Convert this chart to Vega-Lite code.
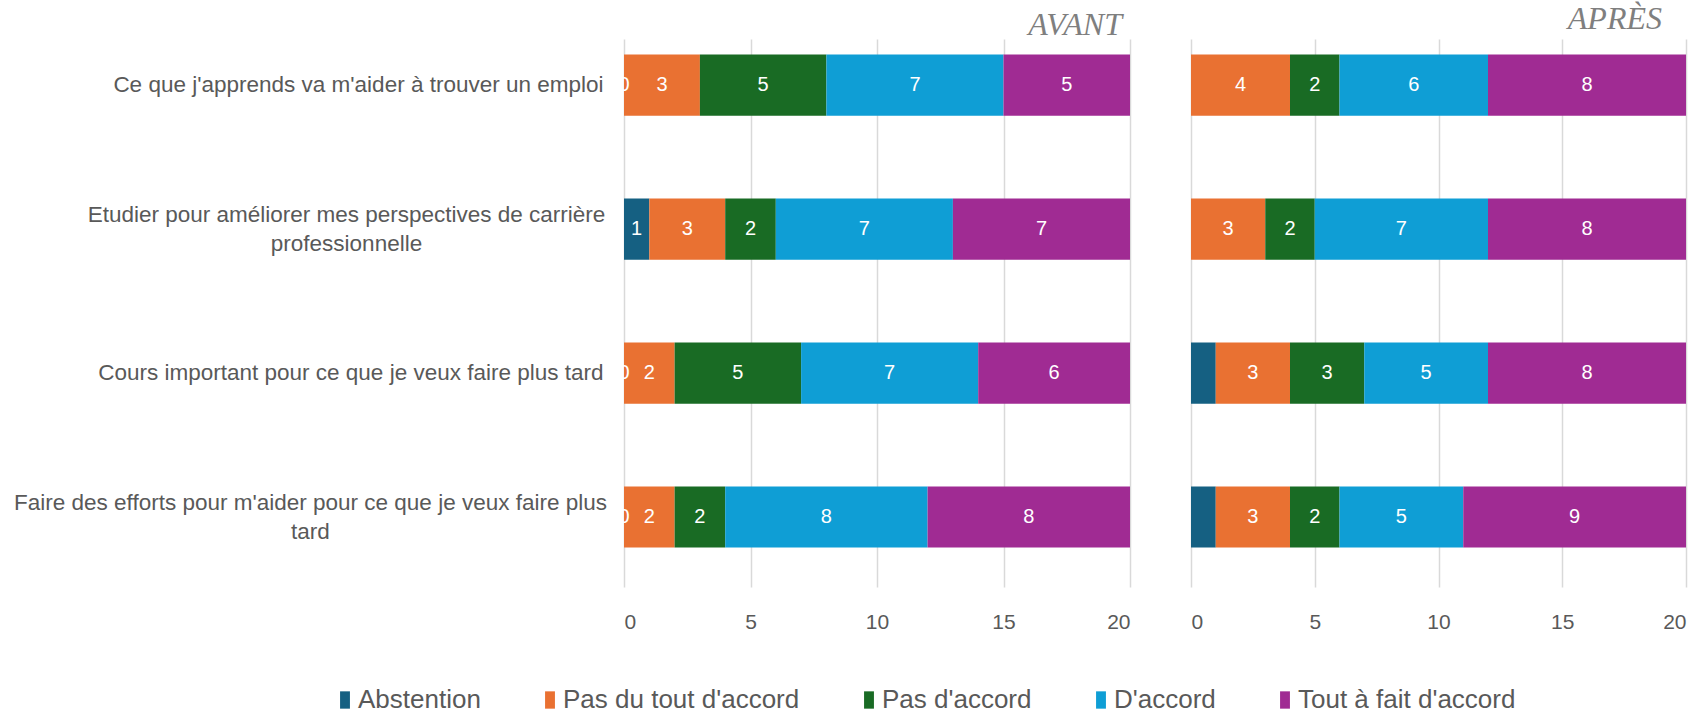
{
  "$schema": "https://vega.github.io/schema/vega-lite/v6.json",
  "background": "white",
  "padding": {"left": 13, "top": 2, "right": 5, "bottom": 3},
  "bounds": "flush",
  "spacing": 61,
  "config": {
    "view": {"stroke": null},
    "font": "Liberation Sans",
    "axis": {"labelFont": "Liberation Sans", "labelColor": "#595959", "domain": false, "ticks": false, "title": null, "gridColor": "#d9d9d9", "gridWidth": 1.5},
    "legend": {"labelFont": "Liberation Sans", "labelColor": "#595959"}
  },
  "data": {"values": [
    {"panel": "AVANT", "question": "Ce que j'apprends va m'aider à trouver un emploi", "cat": "Abstention", "rang": 1, "value": 0},
    {"panel": "AVANT", "question": "Ce que j'apprends va m'aider à trouver un emploi", "cat": "Pas du tout d'accord", "rang": 2, "value": 3},
    {"panel": "AVANT", "question": "Ce que j'apprends va m'aider à trouver un emploi", "cat": "Pas d'accord", "rang": 3, "value": 5},
    {"panel": "AVANT", "question": "Ce que j'apprends va m'aider à trouver un emploi", "cat": "D'accord", "rang": 4, "value": 7},
    {"panel": "AVANT", "question": "Ce que j'apprends va m'aider à trouver un emploi", "cat": "Tout à fait d'accord", "rang": 5, "value": 5},
    {"panel": "AVANT", "question": "Etudier pour améliorer mes perspectives de carrière professionnelle", "cat": "Abstention", "rang": 1, "value": 1},
    {"panel": "AVANT", "question": "Etudier pour améliorer mes perspectives de carrière professionnelle", "cat": "Pas du tout d'accord", "rang": 2, "value": 3},
    {"panel": "AVANT", "question": "Etudier pour améliorer mes perspectives de carrière professionnelle", "cat": "Pas d'accord", "rang": 3, "value": 2},
    {"panel": "AVANT", "question": "Etudier pour améliorer mes perspectives de carrière professionnelle", "cat": "D'accord", "rang": 4, "value": 7},
    {"panel": "AVANT", "question": "Etudier pour améliorer mes perspectives de carrière professionnelle", "cat": "Tout à fait d'accord", "rang": 5, "value": 7},
    {"panel": "AVANT", "question": "Cours important pour ce que je veux faire plus tard", "cat": "Abstention", "rang": 1, "value": 0},
    {"panel": "AVANT", "question": "Cours important pour ce que je veux faire plus tard", "cat": "Pas du tout d'accord", "rang": 2, "value": 2},
    {"panel": "AVANT", "question": "Cours important pour ce que je veux faire plus tard", "cat": "Pas d'accord", "rang": 3, "value": 5},
    {"panel": "AVANT", "question": "Cours important pour ce que je veux faire plus tard", "cat": "D'accord", "rang": 4, "value": 7},
    {"panel": "AVANT", "question": "Cours important pour ce que je veux faire plus tard", "cat": "Tout à fait d'accord", "rang": 5, "value": 6},
    {"panel": "AVANT", "question": "Faire des efforts pour m'aider pour ce que je veux faire plus tard", "cat": "Abstention", "rang": 1, "value": 0},
    {"panel": "AVANT", "question": "Faire des efforts pour m'aider pour ce que je veux faire plus tard", "cat": "Pas du tout d'accord", "rang": 2, "value": 2},
    {"panel": "AVANT", "question": "Faire des efforts pour m'aider pour ce que je veux faire plus tard", "cat": "Pas d'accord", "rang": 3, "value": 2},
    {"panel": "AVANT", "question": "Faire des efforts pour m'aider pour ce que je veux faire plus tard", "cat": "D'accord", "rang": 4, "value": 8},
    {"panel": "AVANT", "question": "Faire des efforts pour m'aider pour ce que je veux faire plus tard", "cat": "Tout à fait d'accord", "rang": 5, "value": 8},
    {"panel": "APRÈS", "question": "Ce que j'apprends va m'aider à trouver un emploi", "cat": "Abstention", "rang": 1, "value": 0},
    {"panel": "APRÈS", "question": "Ce que j'apprends va m'aider à trouver un emploi", "cat": "Pas du tout d'accord", "rang": 2, "value": 4},
    {"panel": "APRÈS", "question": "Ce que j'apprends va m'aider à trouver un emploi", "cat": "Pas d'accord", "rang": 3, "value": 2},
    {"panel": "APRÈS", "question": "Ce que j'apprends va m'aider à trouver un emploi", "cat": "D'accord", "rang": 4, "value": 6},
    {"panel": "APRÈS", "question": "Ce que j'apprends va m'aider à trouver un emploi", "cat": "Tout à fait d'accord", "rang": 5, "value": 8},
    {"panel": "APRÈS", "question": "Etudier pour améliorer mes perspectives de carrière professionnelle", "cat": "Abstention", "rang": 1, "value": 0},
    {"panel": "APRÈS", "question": "Etudier pour améliorer mes perspectives de carrière professionnelle", "cat": "Pas du tout d'accord", "rang": 2, "value": 3},
    {"panel": "APRÈS", "question": "Etudier pour améliorer mes perspectives de carrière professionnelle", "cat": "Pas d'accord", "rang": 3, "value": 2},
    {"panel": "APRÈS", "question": "Etudier pour améliorer mes perspectives de carrière professionnelle", "cat": "D'accord", "rang": 4, "value": 7},
    {"panel": "APRÈS", "question": "Etudier pour améliorer mes perspectives de carrière professionnelle", "cat": "Tout à fait d'accord", "rang": 5, "value": 8},
    {"panel": "APRÈS", "question": "Cours important pour ce que je veux faire plus tard", "cat": "Abstention", "rang": 1, "value": 1},
    {"panel": "APRÈS", "question": "Cours important pour ce que je veux faire plus tard", "cat": "Pas du tout d'accord", "rang": 2, "value": 3},
    {"panel": "APRÈS", "question": "Cours important pour ce que je veux faire plus tard", "cat": "Pas d'accord", "rang": 3, "value": 3},
    {"panel": "APRÈS", "question": "Cours important pour ce que je veux faire plus tard", "cat": "D'accord", "rang": 4, "value": 5},
    {"panel": "APRÈS", "question": "Cours important pour ce que je veux faire plus tard", "cat": "Tout à fait d'accord", "rang": 5, "value": 8},
    {"panel": "APRÈS", "question": "Faire des efforts pour m'aider pour ce que je veux faire plus tard", "cat": "Abstention", "rang": 1, "value": 1},
    {"panel": "APRÈS", "question": "Faire des efforts pour m'aider pour ce que je veux faire plus tard", "cat": "Pas du tout d'accord", "rang": 2, "value": 3},
    {"panel": "APRÈS", "question": "Faire des efforts pour m'aider pour ce que je veux faire plus tard", "cat": "Pas d'accord", "rang": 3, "value": 2},
    {"panel": "APRÈS", "question": "Faire des efforts pour m'aider pour ce que je veux faire plus tard", "cat": "D'accord", "rang": 4, "value": 5},
    {"panel": "APRÈS", "question": "Faire des efforts pour m'aider pour ce que je veux faire plus tard", "cat": "Tout à fait d'accord", "rang": 5, "value": 9}
  ]},
  "hconcat": [
    {
      "width": 506,
      "height": 548,
      "title": {"text": "AVANT", "anchor": "end", "font": "Liberation Serif", "fontStyle": "italic", "fontWeight": "normal", "fontSize": 32, "color": "#7f7f7f", "baseline": "alphabetic", "offset": -28, "dx": -8},
      "transform": [{"filter": "datum.panel == 'AVANT'"}],
      "encoding": {
        "y": {"field": "question", "type": "nominal",
          "sort": ["Ce que j'apprends va m'aider à trouver un emploi", "Etudier pour améliorer mes perspectives de carrière professionnelle", "Cours important pour ce que je veux faire plus tard", "Faire des efforts pour m'aider pour ce que je veux faire plus tard"],
          "scale": {"paddingInner": 0.576, "paddingOuter": 0.191, "align": 0.284},
          "axis": {
            "labelFontSize": 22.5,
            "labelLineHeight": 29,
            "labelLimit": 700,
            "labelExpr": "indexof(datum.label, 'Etudier') == 0 ? ['Etudier pour améliorer mes perspectives de carrière', 'professionnelle'] : indexof(datum.label, 'Faire') == 0 ? ['Faire des efforts pour m\\'aider pour ce que je veux faire plus', 'tard'] : datum.label",
            "labelAlign": {"condition": {"test": "length(datum.value) > 60", "value": "center"}, "value": "right"},
            "labelOffset": {"condition": {"test": "length(datum.value) > 60", "value": -14.5}, "value": 0},
            "labelPadding": {"condition": [{"test": "indexof(datum.value, 'Etudier') == 0", "value": 278}, {"test": "indexof(datum.value, 'Faire') == 0", "value": 314}], "value": 21}
          }
        },
        "x": {"field": "value", "type": "quantitative", "stack": "zero",
          "scale": {"domain": [0, 20], "nice": false},
          "axis": {"values": [0, 5, 10, 15, 20], "labelFontSize": 21, "labelPadding": 24, "grid": true}
        },
        "order": {"field": "rang", "type": "quantitative"}
      },
      "layer": [
        {"mark": {"type": "bar"},
         "encoding": {
           "color": {"field": "cat", "type": "nominal",
             "sort": ["Abstention", "Pas du tout d'accord", "Pas d'accord", "D'accord", "Tout à fait d'accord"],
             "scale": {"domain": ["Abstention", "Pas du tout d'accord", "Pas d'accord", "D'accord", "Tout à fait d'accord"], "range": ["#156082", "#e97132", "#196b24", "#0f9ed5", "#a02b93"]},
             "legend": {"orient": "none", "direction": "horizontal", "title": null, "legendX": -292, "legendY": 648, "labelFontSize": 26, "labelLimit": 600, "symbolType": "M-0.57,-1H0.57V1H-0.57Z", "symbolSize": 300, "symbolStrokeWidth": 0, "columnPadding": 56, "labelOffset": 0}
           }
         }},
        {"mark": {"type": "text", "color": "white", "fontSize": 20, "font": "Liberation Sans"},
         "encoding": {
           "x": {"field": "value", "type": "quantitative", "stack": "zero", "bandPosition": 0.5},
           "detail": {"field": "cat", "type": "nominal"},
           "text": {"field": "value", "type": "quantitative"}
         }}
      ]
    },
    {
      "width": 495,
      "height": 548,
      "title": {"text": "APRÈS", "anchor": "end", "font": "Liberation Serif", "fontStyle": "italic", "fontWeight": "normal", "fontSize": 32, "color": "#7f7f7f", "baseline": "alphabetic", "offset": -21.5, "dx": -24},
      "transform": [{"filter": "datum.panel == 'APRÈS'"}],
      "encoding": {
        "y": {"field": "question", "type": "nominal",
          "sort": ["Ce que j'apprends va m'aider à trouver un emploi", "Etudier pour améliorer mes perspectives de carrière professionnelle", "Cours important pour ce que je veux faire plus tard", "Faire des efforts pour m'aider pour ce que je veux faire plus tard"],
          "scale": {"paddingInner": 0.576, "paddingOuter": 0.191, "align": 0.284},
          "axis": null
        },
        "x": {"field": "value", "type": "quantitative", "stack": "zero",
          "scale": {"domain": [0, 20], "nice": false},
          "axis": {"values": [0, 5, 10, 15, 20], "labelFontSize": 21, "labelPadding": 24, "grid": true}
        },
        "order": {"field": "rang", "type": "quantitative"}
      },
      "layer": [
        {"mark": {"type": "bar"},
         "encoding": {
           "color": {"field": "cat", "type": "nominal",
             "sort": ["Abstention", "Pas du tout d'accord", "Pas d'accord", "D'accord", "Tout à fait d'accord"],
             "scale": {"domain": ["Abstention", "Pas du tout d'accord", "Pas d'accord", "D'accord", "Tout à fait d'accord"], "range": ["#156082", "#e97132", "#196b24", "#0f9ed5", "#a02b93"]}
           }
         }},
        {"mark": {"type": "text", "color": "white", "fontSize": 20, "font": "Liberation Sans"},
         "encoding": {
           "x": {"field": "value", "type": "quantitative", "stack": "zero", "bandPosition": 0.5},
           "detail": {"field": "cat", "type": "nominal"},
           "text": {"condition": {"test": "datum.cat == 'Abstention'", "value": ""}, "field": "value", "type": "quantitative"}
         }}
      ]
    }
  ]
}
